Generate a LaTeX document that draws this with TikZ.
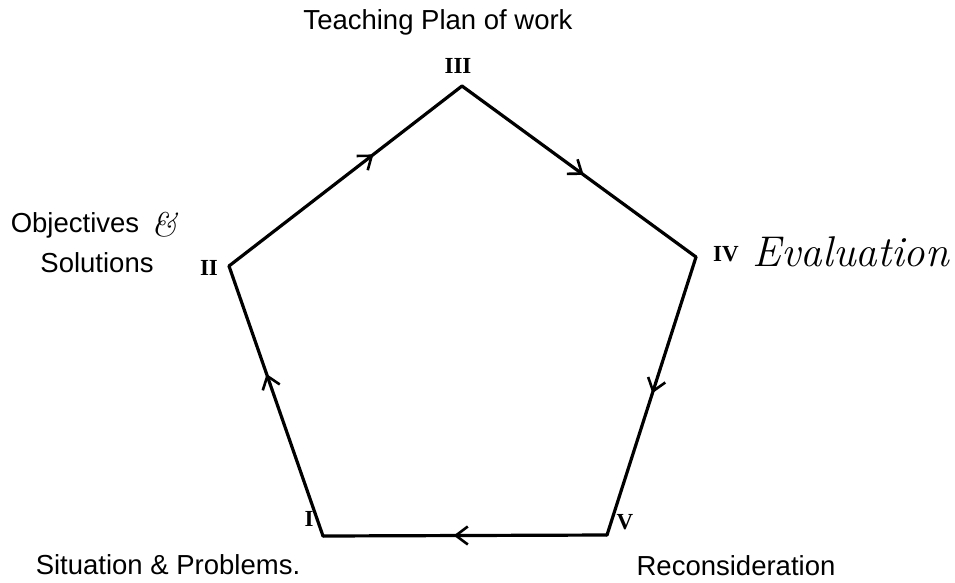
\documentclass[tikz,border=0pt]{standalone}
\usepackage{fontspec}
\setmainfont{Liberation Sans}
\newfontfamily\numfont{Liberation Serif}
\newfontfamily\handfont{Latin Modern Roman}
\usetikzlibrary{arrows.meta,decorations.markings}
\begin{document}
\begin{tikzpicture}[x=1pt,y=-1pt,
  edge/.style={line width=3.2pt,line cap=round,line join=miter},
  midarrow/.style={postaction={decorate},decoration={markings,
     mark=at position #1 with {\arrow{Straight Barb[length=12pt,width=18pt,line width=2.6pt]}}}},
  lbl/.style={font=\fontsize{27.5}{30}\selectfont,inner sep=0pt},
  num/.style={font=\numfont\bfseries\fontsize{23}{25}\selectfont,inner sep=0pt},
  hand/.style={font=\handfont\itshape\fontsize{43}{45}\selectfont,inner sep=0pt}]
\useasboundingbox (0,0) rectangle (955,582);
\fill[white] (0,0) rectangle (955,582);
% vertices
\coordinate (v1) at (323,536);
\coordinate (v2) at (229,266);
\coordinate (v3) at (462,86);
\coordinate (v4) at (696,257);
\coordinate (v5) at (607,535);
% edges
\draw[edge,midarrow=0.62] (v2) -- (v3);
\draw[edge,midarrow=0.52] (v3) -- (v4);
\draw[edge,midarrow=0.49] (v4) -- (v5);
\draw[edge,midarrow=0.54] (v5) -- (v1);
\draw[edge,midarrow=0.6] (v1) -- (v2);
% numerals
\node[num] (n1) at (309,519) {I};
\node[num] (n2) at (209,268) {II};
\node[num] (n3) at (458,66) {III};
\node[num] (n4) at (726,254) {IV};
\node[num] (n5) at (625,522) {V};
% labels
\node[lbl] (t3) at (438,22) {Teaching Plan of work};
\node[lbl] (t2a) at (75,225) {Objectives};
\node[hand,font=\handfont\itshape\fontsize{34}{36}\selectfont] (amp) at (164,225) {\&};
\node[lbl] (t2b) at (97,263) {Solutions};
\node[hand] (t4) at (851,252) {Evaluation};
\node[lbl] (t1) at (168,565) {Situation \& Problems.};
\node[lbl] (t5) at (736,566) {Reconsideration};
\end{tikzpicture}
\end{document}
